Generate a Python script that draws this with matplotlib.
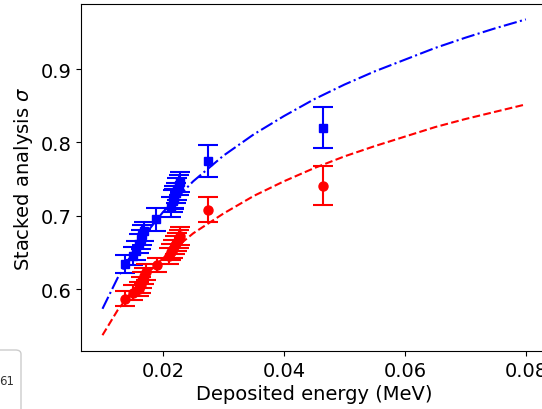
import matplotlib
matplotlib.use("Agg")
import matplotlib.pyplot as plt
from matplotlib.patches import FancyBboxPatch

# Measured points (blue squares)
blue_E = [0.0137, 0.0150, 0.0156, 0.0161, 0.0163, 0.0165, 0.0168, 0.0188,
          0.0213, 0.0216, 0.0218, 0.0219, 0.0221, 0.0223, 0.0226, 0.0228,
          0.0274, 0.0464]
blue_sigma = [0.634, 0.645, 0.652, 0.662, 0.668, 0.674, 0.679, 0.695,
              0.712, 0.720, 0.723, 0.726, 0.731, 0.737, 0.742, 0.746,
              0.775, 0.820]
blue_err = [0.012, 0.012, 0.013, 0.013, 0.013, 0.014, 0.013, 0.016,
            0.014, 0.015, 0.014, 0.015, 0.014, 0.015, 0.014, 0.014,
            0.022, 0.028]

# Measured points (red circles)
red_E = [0.0137, 0.0151, 0.0160, 0.0163, 0.0166, 0.0168, 0.0172, 0.0190,
         0.0210, 0.0214, 0.0217, 0.0220, 0.0223, 0.0226, 0.0229,
         0.0274, 0.0464]
red_sigma = [0.587, 0.595, 0.600, 0.606, 0.612, 0.618, 0.623, 0.633,
             0.645, 0.650, 0.655, 0.660, 0.664, 0.668, 0.672,
             0.708, 0.741]
red_err = [0.010, 0.010, 0.010, 0.011, 0.011, 0.011, 0.011, 0.010,
           0.011, 0.011, 0.012, 0.012, 0.012, 0.012, 0.012,
           0.017, 0.027]

# Fit curves
curve_E = [0.010, 0.0125, 0.015, 0.0175, 0.020, 0.025, 0.030, 0.035, 0.040,
           0.045, 0.050, 0.055, 0.060, 0.065, 0.070, 0.075, 0.080]
blue_curve = [0.573, 0.615, 0.650, 0.679, 0.705, 0.747, 0.782, 0.811, 0.836,
              0.859, 0.879, 0.897, 0.913, 0.929, 0.943, 0.956, 0.968]
red_curve = [0.537, 0.571, 0.598, 0.622, 0.642, 0.676, 0.703, 0.727, 0.747,
             0.765, 0.781, 0.795, 0.808, 0.821, 0.832, 0.842, 0.852]

x_ticks = [0.02, 0.04, 0.06, 0.08]
y_ticks = [0.6, 0.7, 0.8, 0.9]

W, H = 542, 410
fig = plt.figure(figsize=(W / 100, H / 100), dpi=100)
ax = fig.add_axes([81 / W, (H - 352) / H, (547 - 81) / W, (352 - 5) / H])

ax.plot(curve_E, blue_curve, color="blue", linestyle="-.", linewidth=1.5)
ax.plot(curve_E, red_curve, color="red", linestyle="--", linewidth=1.5)
ax.errorbar(blue_E, blue_sigma, yerr=blue_err, fmt="s", color="blue",
            markersize=6, capsize=7, elinewidth=1.5, capthick=1.5)
ax.errorbar(red_E, red_sigma, yerr=red_err, fmt="o", color="red",
            markersize=6.5, capsize=7, elinewidth=1.5, capthick=1.5)

ax.set_xlim(0.00645, 0.0835)
ax.set_ylim(0.5154, 0.989)
ax.set_xticks(x_ticks)
ax.set_xticklabels([f"{v:.2f}" for v in x_ticks])
ax.set_yticks(y_ticks)
ax.set_yticklabels([f"{v:.1f}" for v in y_ticks])
ax.tick_params(labelsize=14)
ax.set_xlabel("Deposited energy (MeV)", fontsize=14, labelpad=3)
ax.set_ylabel(r"Stacked analysis $\sigma$", fontsize=14)

# partially visible box in the lower-left corner
box = FancyBboxPatch((-40 / W, -30 / H), 61 / W, (59 + 30) / H,
                     boxstyle="round,pad=0,rounding_size=0.01",
                     transform=fig.transFigure, facecolor="white",
                     edgecolor="#cccccc", linewidth=1.0, clip_on=False)
fig.patches.append(box)
fig.text(-1 / W, (H - 382) / H, "61", fontsize=8.5, color="#333333",
         ha="left", va="center")

fig.savefig("out.png", dpi=100)
